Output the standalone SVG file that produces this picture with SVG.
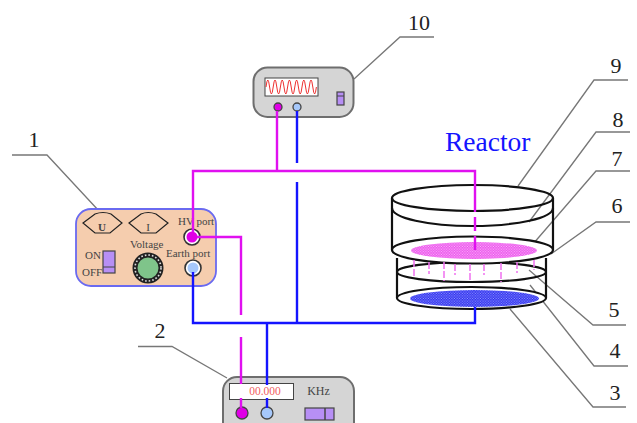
<svg xmlns="http://www.w3.org/2000/svg" width="637" height="423" viewBox="0 0 637 423">
<style>
text{font-family:"Liberation Serif","Times New Roman",serif}
.num{font-size:22px;fill:#222;text-anchor:middle}
.lbl{font-size:11px;fill:#444}
.lead{fill:none;stroke:#777;stroke-width:1.3}
.box{fill:#d5d5d5;stroke:#6e6e6e;stroke-width:2}
.gauge{fill:none;stroke:#222;stroke-width:1.2}
.ring{fill:#fff;stroke:#333;stroke-width:1.6}
.sw{fill:#b78ff5;stroke:#444;stroke-width:1.2}
.mag{fill:#e000e6;stroke:#444;stroke-width:1.3}
.lb{fill:#a6c8fb;stroke:#444;stroke-width:1.3}
.r{fill:none;stroke:#111;stroke-width:2.2}
.wm{fill:none;stroke:#e010f0;stroke-width:2.4}
.wb{fill:none;stroke:#1414ff;stroke-width:2.4}
.d{stroke:#f070f0;stroke-width:1.5;stroke-dasharray:7 2;fill:none}
</style>
<defs>
<pattern id="hp" width="2.6" height="2.6" patternUnits="userSpaceOnUse"><rect width="2.6" height="2.6" fill="#ea50ea"/><circle cx="0.8" cy="0.8" r="0.65" fill="#ffc4ff"/><circle cx="2.1" cy="2.1" r="0.65" fill="#ffc4ff"/></pattern>
<pattern id="hb" width="2.6" height="2.6" patternUnits="userSpaceOnUse"><rect width="2.6" height="2.6" fill="#2a2aee"/><circle cx="0.8" cy="0.8" r="0.65" fill="#a0a8ff"/><circle cx="2.1" cy="2.1" r="0.65" fill="#a0a8ff"/></pattern>
</defs>

<g id="leaders">
<path class="lead" d="M12 155H47L99 211"/>
<path class="lead" d="M138 346.500H172L227 378"/>
<path class="lead" d="M354 79L400 37H434"/>
<path class="lead" d="M518 186L594 80H628"/>
<path class="lead" d="M529 222L596 132H630"/>
<path class="lead" d="M533 244L596 171H630"/>
<path class="lead" d="M551 254L596 222H630"/>
<path class="lead" d="M529 270L593 325H626"/>
<path class="lead" d="M530 285L594 366H628"/>
<path class="lead" d="M510 309L593 407H626"/>
</g>

<g id="node-1">
<rect x="76" y="209" width="140" height="77" rx="15" fill="#f5cdae" stroke="#6a6af0" stroke-width="1.8"/>
<path class="gauge" d="M83 223L95 214Q103 211 111 214L122 223L110 233H95Z"/>
<path class="gauge" d="M129 223L141 214Q148 211 156 214L168 223L156 233H141Z"/>
<text class="lbl" x="102" y="231" text-anchor="middle" font-weight="bold">U</text>
<text class="lbl" x="148" y="231" text-anchor="middle">I</text>
<text class="lbl" x="178" y="225">HV port</text>
<text class="lbl" x="130" y="248">Voltage</text>
<text class="lbl" x="166" y="257">Earth port</text>
<text class="lbl" x="85" y="259">ON</text>
<text class="lbl" x="82" y="276">OFF</text>
<rect class="sw" x="103" y="251" width="12" height="22"/>
<path d="M103 267H115" stroke="#444" stroke-width="1"/>
<circle cx="148" cy="268" r="13" fill="#7fc48a" stroke="#222" stroke-width="5"/>
<circle cx="148" cy="268" r="13" fill="none" stroke="#ddd" stroke-width="1.6" stroke-dasharray="1.6 2"/>
<circle class="ring" cx="192" cy="237" r="8"/><circle cx="192" cy="237" r="5.500" fill="#e000e6"/>
<circle class="ring" cx="193" cy="268" r="8"/><circle cx="193" cy="268" r="5.500" fill="#a6c8fb"/>
</g>

<g id="node-2">
<rect class="box" x="223" y="377" width="131" height="70" rx="14"/>
<rect x="229.500" y="383.500" width="64" height="16" fill="#fff" stroke="#444" stroke-width="1"/>
<text x="265" y="395" font-size="11.500" fill="#f06060" text-anchor="middle">00.000</text>
<text x="318.500" y="395" font-size="12" fill="#444" text-anchor="middle">KHz</text>
<circle class="mag" cx="242" cy="413" r="6"/>
<circle class="lb" cx="267" cy="413" r="6"/>
<rect class="sw" x="305" y="408" width="29" height="12"/>
<path d="M325 408V420" stroke="#444" stroke-width="1.500"/>
</g>

<g id="node-10">
<rect class="box" x="253.500" y="67.500" width="100" height="49.500" rx="14"/>
<rect x="265" y="78" width="53" height="18" fill="#fff" stroke="#444" stroke-width="1"/>
<path d="M266 87q1.800 -14 3.600 0t3.600 0t3.600 0t3.600 0t3.600 0t3.600 0t3.600 0t3.600 0t3.600 0t3.600 0t3.600 0t3.600 0t3.600 0t3.600 0" fill="none" stroke="#ee3030" stroke-width="1"/>
<circle class="mag" cx="278" cy="107" r="4"/>
<circle class="lb" cx="297" cy="107" r="4"/>
<rect class="sw" x="337" y="92" width="7" height="13"/>
<path d="M337 96H344" stroke="#444" stroke-width="1"/>
</g>

<g id="reactor">
<path class="r" d="M392 198V250M553 198V250"/>
<ellipse class="r" cx="472.500" cy="198" rx="80.500" ry="13"/>
<path class="r" d="M392 208A80.500 18 0 0 0 553 208"/>
<path class="r" d="M397 258V298M546 258V298"/>
<ellipse class="r" cx="471.500" cy="272" rx="74.500" ry="10"/>
<ellipse class="r" cx="471.500" cy="298" rx="74.500" ry="11" style="fill:#fff"/>
<ellipse cx="474.500" cy="298.500" rx="64.500" ry="8.500" fill="url(#hb)"/>
<ellipse class="r" cx="472.500" cy="250" rx="80.500" ry="13.500" style="fill:#fff"/>
<ellipse cx="474" cy="250.500" rx="63" ry="8.500" fill="url(#hp)"/>
<path class="d" d="M414 260V277M429 262V274M444 262V281M455 264V275M470 264V282M484 264V275M501 263V282M517 262V273M534 260V270"/>
<text x="445" y="151" font-size="27.500" fill="#1414ff">Reactor</text>
</g>

<g id="labels">
<text class="num" x="34" y="147">1</text>
<text class="num" x="160" y="338">2</text>
<text class="num" x="419" y="30">10</text>
<text class="num" x="616" y="73">9</text>
<text class="num" x="618" y="127">8</text>
<text class="num" x="617" y="166">7</text>
<text class="num" x="617" y="213">6</text>
<text class="num" x="614" y="317">5</text>
<text class="num" x="615" y="358">4</text>
<text class="num" x="615" y="400">3</text>
</g>

<g id="connectors">
<path class="wm" d="M277 111V171M193 232V171H475V212M475 217V231M475 236V250"/>
<path class="wm" d="M197 237H241V315M241 337V384M241 398V408"/>
<path class="wb" d="M297 111V163M297 182V323M193 272V323H475V307M267 323V385M267 398V408"/>
</g>
</svg>
